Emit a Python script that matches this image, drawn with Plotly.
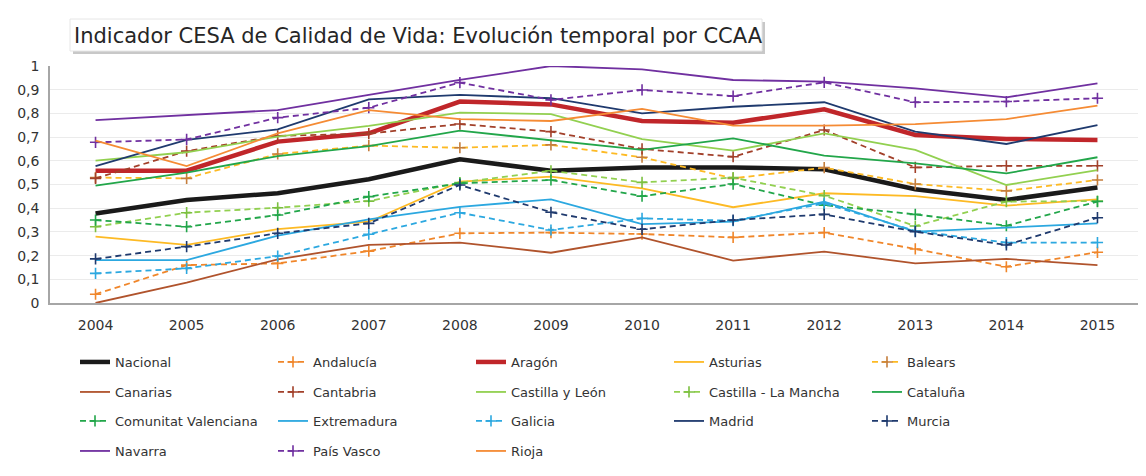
import plotly.graph_objects as go

years = ["2004", "2005", "2006", "2007", "2008", "2009", "2010", "2011", "2012", "2013", "2014", "2015"]

nacional = [0.378, 0.435, 0.463, 0.522, 0.606, 0.558, 0.572, 0.572, 0.564, 0.480, 0.435, 0.487]
andalucia = [0.037, 0.160, 0.167, 0.219, 0.294, 0.297, 0.291, 0.277, 0.297, 0.228, 0.153, 0.214]
aragon = [0.558, 0.558, 0.681, 0.716, 0.850, 0.838, 0.768, 0.761, 0.817, 0.709, 0.692, 0.688]
asturias = [0.280, 0.245, 0.312, 0.343, 0.512, 0.533, 0.484, 0.404, 0.463, 0.451, 0.411, 0.437]
balears = [0.529, 0.526, 0.629, 0.664, 0.655, 0.667, 0.615, 0.526, 0.571, 0.502, 0.473, 0.519]
canarias = [0.000, 0.086, 0.184, 0.245, 0.255, 0.212, 0.277, 0.179, 0.217, 0.167, 0.186, 0.160]
cantabria = [0.526, 0.641, 0.705, 0.715, 0.755, 0.723, 0.650, 0.617, 0.730, 0.572, 0.579, 0.579]
castilla_leon = [0.601, 0.636, 0.702, 0.747, 0.803, 0.797, 0.691, 0.643, 0.716, 0.646, 0.498, 0.561]
castilla_mancha = [0.322, 0.381, 0.402, 0.430, 0.508, 0.558, 0.509, 0.529, 0.453, 0.325, 0.428, 0.430]
cataluna = [0.495, 0.550, 0.620, 0.662, 0.727, 0.685, 0.646, 0.695, 0.622, 0.589, 0.547, 0.615]
valenciana = [0.350, 0.322, 0.371, 0.449, 0.505, 0.519, 0.451, 0.502, 0.413, 0.374, 0.326, 0.428]
extremadura = [0.181, 0.181, 0.284, 0.353, 0.406, 0.437, 0.333, 0.343, 0.428, 0.301, 0.318, 0.336]
galicia = [0.125, 0.146, 0.198, 0.290, 0.381, 0.308, 0.357, 0.347, 0.420, 0.304, 0.255, 0.255]
madrid = [0.578, 0.688, 0.733, 0.859, 0.878, 0.864, 0.800, 0.828, 0.847, 0.723, 0.671, 0.751]
murcia = [0.186, 0.238, 0.294, 0.336, 0.498, 0.383, 0.311, 0.350, 0.374, 0.301, 0.245, 0.360]
navarra = [0.772, 0.793, 0.814, 0.878, 0.941, 1.000, 0.986, 0.941, 0.934, 0.906, 0.868, 0.927]
pais_vasco = [0.678, 0.690, 0.782, 0.824, 0.930, 0.857, 0.899, 0.873, 0.931, 0.847, 0.850, 0.864]
rioja = [0.685, 0.578, 0.716, 0.814, 0.776, 0.768, 0.819, 0.748, 0.748, 0.755, 0.776, 0.833]

y_ticks = [0, 0.1, 0.2, 0.3, 0.4, 0.5, 0.6, 0.7, 0.8, 0.9, 1]
title_text = "Indicador CESA de Calidad de Vida: Evolución temporal por CCAA"

# name, values, line colour, marker colour, dashed, width, legend row
series = [
    ("Nacional", nacional, "#1a1a1a", None, False, 4.5, 1),
    ("Andalucía", andalucia, "#F0862A", "#F0862A", True, 1.8, 1),
    ("Aragón", aragon, "#C0262A", None, False, 4.5, 1),
    ("Asturias", asturias, "#FDBA24", None, False, 1.8, 1),
    ("Balears", balears, "#FDBA24", "#C57E3C", True, 1.8, 1),
    ("Canarias", canarias, "#B0532C", None, False, 1.8, 2),
    ("Cantabria", cantabria, "#A2402A", "#A2402A", True, 1.8, 2),
    ("Castilla y León", castilla_leon, "#92D050", None, False, 1.8, 2),
    ("Castilla - La Mancha", castilla_mancha, "#92D050", "#7CC040", True, 1.8, 2),
    ("Cataluña", cataluna, "#22A64A", None, False, 1.8, 2),
    ("Comunitat Valenciana", valenciana, "#22A64A", "#22A64A", True, 1.8, 3),
    ("Extremadura", extremadura, "#2CA8E0", None, False, 1.8, 3),
    ("Galicia", galicia, "#2CA8E0", "#2CA8E0", True, 1.8, 3),
    ("Madrid", madrid, "#1F3A6E", None, False, 1.8, 3),
    ("Murcia", murcia, "#1F3A6E", "#1F3A6E", True, 1.8, 3),
    ("Navarra", navarra, "#7030A0", None, False, 1.8, 4),
    ("País Vasco", pais_vasco, "#7030A0", "#7030A0", True, 1.8, 4),
    ("Rioja", rioja, "#F58B34", None, False, 1.8, 4),
]

fig = go.Figure()
for name, vals, col, mcol, dashed, w, row in series:
    legend_id = "legend" if row == 1 else "legend%d" % row
    if dashed:
        fig.add_trace(go.Scatter(
            x=years, y=vals, name=name, mode="lines+markers",
            line=dict(color=col, width=w, dash="6px,4px"),
            marker=dict(symbol="cross-thin", size=8, line=dict(color=mcol, width=1.6)),
            legend=legend_id,
        ))
    else:
        fig.add_trace(go.Scatter(
            x=years, y=vals, name=name, mode="lines",
            line=dict(color=col, width=w),
            legend=legend_id,
        ))

# the page body adds an 8px offset; work in page pixels and convert
OFF = 8
W, H = 1138, 468
ml, mr, mt, mb = 42, 3, 58, 173
pw = W - ml - mr
ph = H - mt - mb


def px_x(px):
    return (px - OFF - ml) / pw


def px_y(py):
    return (H - mb - (py - OFF)) / ph


legend_common = dict(orientation="h", xanchor="left", yanchor="middle",
                     entrywidth=153, entrywidthmode="pixels",
                     font=dict(family="DejaVu Sans", size=13, color="#333333"),
                     bgcolor="rgba(0,0,0,0)", itemclick=False, itemdoubleclick=False)
row_y = [362, 392, 421, 451]

layout_legends = {}
for i, ry in enumerate(row_y):
    key = "legend" if i == 0 else "legend%d" % (i + 1)
    layout_legends[key] = dict(legend_common, x=px_x(75), y=px_y(ry))

fig.update_layout(
    width=W, height=H,
    margin=dict(l=ml, r=mr, t=mt, b=mb, autoexpand=False),
    paper_bgcolor="white", plot_bgcolor="white",
    separators=",.",
    showlegend=True,
    xaxis=dict(type="category", range=[-0.5, 11.5], showgrid=False,
               showline=True, linecolor="#A6A6A6", linewidth=1.5,
               ticks="", ticklabelstandoff=8,
               tickfont=dict(family="DejaVu Sans", size=14, color="#333333")),
    yaxis=dict(range=[0, 1], tickvals=y_ticks, showgrid=True, gridcolor="#EBEBEB",
               gridwidth=1, zeroline=False, showline=True, linecolor="#A6A6A6",
               linewidth=1.5, ticks="", ticklabelstandoff=6,
               tickfont=dict(family="DejaVu Sans", size=14, color="#333333")),
    **layout_legends,
)

# title box with a soft shadow
fig.add_shape(type="rect", xref="paper", yref="paper",
              x0=px_x(73), x1=px_x(765), y0=px_y(54), y1=px_y(22),
              fillcolor="#C8C8C8", line=dict(width=0), layer="below")
fig.add_shape(type="rect", xref="paper", yref="paper",
              x0=px_x(70), x1=px_x(762), y0=px_y(51), y1=px_y(19),
              fillcolor="white", line=dict(color="#E6E6E6", width=1), layer="below")
fig.add_annotation(text=title_text, xref="paper", yref="paper",
                   x=px_x(72), y=px_y(36), xanchor="left", yanchor="middle",
                   showarrow=False,
                   font=dict(family="DejaVu Sans", size=21, color="#262626"))

fig.write_html("out.html")
